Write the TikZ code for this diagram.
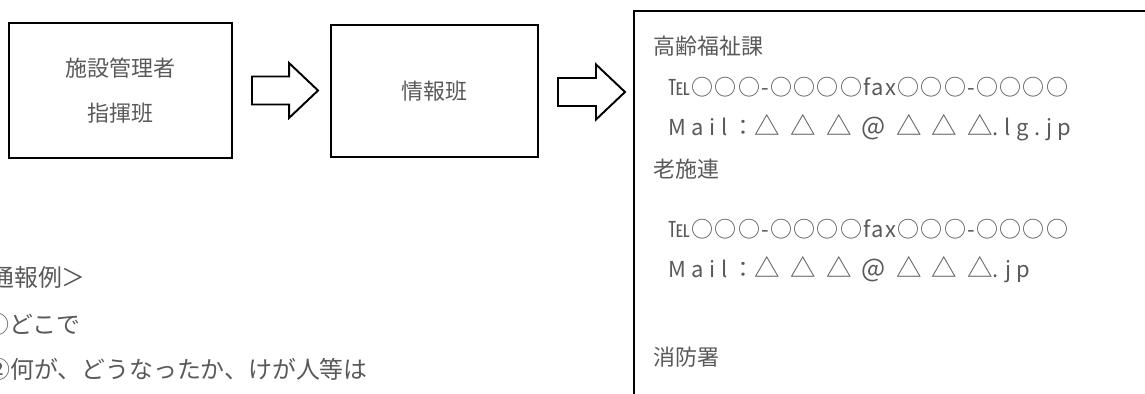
\documentclass[tikz,border=0pt]{standalone}
\usepackage{fontspec}
\setmainfont{Noto Sans CJK JP}
\newfontfamily\spacedfont{Noto Sans CJK JP}[LetterSpace=25]
\newfontfamily\trifont{Noto Sans CJK JP}[LetterSpace=40]
\newfontfamily\telfont{Noto Sans CJK JP}[LetterSpace=6]
\usetikzlibrary{calc}
\usetikzlibrary{positioning}

\tikzset{
  box/.style={draw, line width=1.1pt, inner sep=0pt, align=center,
    text=black!65, font=\fontsize{12.5}{25.5}\selectfont},
  blockarrow/.style={draw, line width=1.1pt, fill=white, line join=miter},
  txt/.style={inner sep=0pt, text=black!65, font=\fontsize{12.5}{15}\selectfont},
  reitxt/.style={txt, anchor=west, font=\fontsize{13.6}{15}\selectfont},
}
\newcommand{\tri}[1]{{\trifont\fontsize{14.5}{15}\selectfont #1}}

\begin{document}
\begin{tikzpicture}[x=0.02cm,y=-0.02cm]
  \useasboundingbox (0,0) rectangle (1145,394);
  \def\px{0.02cm}
  \def\shaft{14}
  \def\head{27.5}
  \def\headlen{29}

  % the three boxes
  \node[box, minimum width=223*\px, minimum height=135*\px] (kanri) at (120.5,90.5)
    {施設管理者\\指揮班};
  \node[box, minimum width=207*\px, minimum height=132*\px] (joho) at (434.5,91)
    {情報班};
  \node[box, anchor=north west, minimum width=560*\px, minimum height=440*\px]
    (renraku) at (633,10) {};

  % block arrows between them
  \coordinate (a1s) at ($(kanri.east)+(19,0)$);
  \coordinate (a1t) at ($(a1s -| joho.west)+(-12,0)$);
  \draw[blockarrow] ($(a1s)+(0,-\shaft)$) -- ($(a1t)+(-\headlen,-\shaft)$)
    -- ($(a1t)+(-\headlen,-\head)$) -- (a1t) -- ($(a1t)+(-\headlen,\head)$)
    -- ($(a1t)+(-\headlen,\shaft)$) -- ($(a1s)+(0,\shaft)$) -- cycle;

  \coordinate (a2s) at ($(joho.east)+(19,1)$);
  \coordinate (a2t) at ($(a2s -| renraku.west)+(-8,0)$);
  \draw[blockarrow] ($(a2s)+(0,-\shaft)$) -- ($(a2t)+(-\headlen,-\shaft)$)
    -- ($(a2t)+(-\headlen,-\head)$) -- (a2t) -- ($(a2t)+(-\headlen,\head)$)
    -- ($(a2t)+(-\headlen,\shaft)$) -- ($(a2s)+(0,\shaft)$) -- cycle;

  % contacts
  \node[txt, anchor=west] (korei) at (653,46) {高齢福祉課};
  \node[txt, anchor=west] (tel1) at (668,87) {\telfont ℡○○○-○○○○fax○○○-○○○○};
  \node[txt, anchor=west] (mail1) at (668,128)
    {\spacedfont Mail：\tri{△△△@△△△}.lg.jp};
  \node[txt, anchor=west] (roshi) at (653,169) {老施連};
  \node[txt, anchor=west] (tel2) at (668,229) {\telfont ℡○○○-○○○○fax○○○-○○○○};
  \node[txt, anchor=west] (mail2) at (668,270)
    {\spacedfont Mail：\tri{△△△@△△△}.jp};
  \node[txt, anchor=west] (shobo) at (653,357) {消防署};

  % example of a report
  \node[reitxt] (rei) at (-34,277) {＜通報例＞};
  \node[reitxt] (doko) at (-15,324) {①どこで};
  \node[reitxt] (nani) at (-14,369) {②何が、どうなったか、けが人等は};
\end{tikzpicture}
\end{document}
